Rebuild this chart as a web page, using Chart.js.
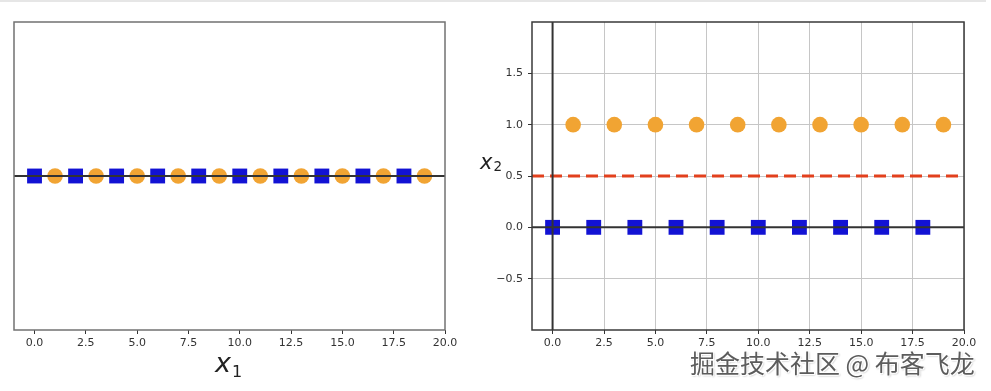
<!DOCTYPE html>
<html>
<head>
<meta charset="utf-8">
<script src="https://cdn.jsdelivr.net/npm/chart.js@4/dist/chart.umd.min.js"></script>
<style>
  body { margin: 0; background: #fff; width: 991px; height: 391px; position: relative; overflow: hidden; }
  #topline { position: absolute; left: 0; top: 0; width: 986px; height: 2px; background: #e6e6e6; }
  #left { position: absolute; left: 0; top: 0; }
  #right { position: absolute; left: 470px; top: 0; }
  #mark {
    position: absolute; left: 690px; top: 344px;
    font: 25px "Noto Sans CJK SC"; color: #5c5c5c; white-space: nowrap;
    text-shadow: 1px 1px 0 #fff, -1px -1px 0 #fff, 1px -1px 0 #fff, -1px 1px 0 #fff, 1px 1px 2px #999;
  }
</style>
</head>
<body>
<div id="topline"></div>
<canvas id="left" width="470" height="391"></canvas>
<canvas id="right" width="521" height="391"></canvas>
<div id="mark">掘金技术社区 @ 布客飞龙</div>
<script>
// data
const squareX = [0, 2, 4, 6, 8, 10, 12, 14, 16, 18];
const circleX = [1, 3, 5, 7, 9, 11, 13, 15, 17, 19];
const squareY2 = [0, 0, 0, 0, 0, 0, 0, 0, 0, 0];
const circleY2 = [1, 1, 1, 1, 1, 1, 1, 1, 1, 1];
const xTicks = [0, 2.5, 5, 7.5, 10, 12.5, 15, 17.5, 20];
const yTicks = [-0.5, 0, 0.5, 1, 1.5];
const xRange = [-1, 20];
const boundaryY = 0.5;

const BLUE = '#1212d4';
const ORANGE = '#f1a433';
const DARK = '#333333';

const pts = (xs, ys) => xs.map((x, i) => ({ x: x, y: ys ? ys[i] : 0 }));
const fmt = v => (v < 0 ? '\u2212' + Math.abs(v).toFixed(1) : v.toFixed(1));

// frame around the plot area
const frame = (color) => ({
  id: 'frame',
  afterDraw(chart) {
    const { ctx, chartArea: a } = chart;
    ctx.save();
    ctx.strokeStyle = color;
    ctx.lineWidth = 1.5;
    ctx.strokeRect(a.left, a.top, a.right - a.left, a.bottom - a.top);
    ctx.restore();
  }
});

// mathtext-like axis label: x with a subscript
const mathLabel = (sub, x, y, size, subSize, subDrop) => ({
  id: 'mathLabel',
  afterDraw(chart) {
    const ctx = chart.ctx;
    ctx.save();
    ctx.fillStyle = '#222';
    ctx.textBaseline = 'alphabetic';
    ctx.font = 'italic ' + size + 'px "DejaVu Sans"';
    ctx.fillText('x', x, y);
    const w = ctx.measureText('x').width;
    ctx.font = subSize + 'px "DejaVu Sans"';
    ctx.fillText(sub, x + w + 1, y + subDrop);
    ctx.restore();
  }
});

const xScale = (grid) => ({
  type: 'linear',
  min: xRange[0],
  max: xRange[1],
  afterBuildTicks: s => { s.ticks = xTicks.map(v => ({ value: v })); },
  afterFit: s => { s.height = 61; },
  border: { display: false },
  grid: {
    drawOnChartArea: grid,
    color: '#c6c6c6',
    lineWidth: 1,
    tickLength: 4,
    tickColor: DARK,
    tickWidth: 1
  },
  ticks: {
    color: DARK,
    font: { family: 'DejaVu Sans', size: 11 },
    padding: 3,
    maxRotation: 0,
    autoSkip: false,
    callback: v => fmt(v)
  }
});

const markerSets = (sqY, ciY) => [
  { data: pts(squareX, sqY), pointStyle: 'rect', pointRadius: 10.5, backgroundColor: BLUE, borderWidth: 0, order: 2 },
  { data: pts(circleX, ciY), pointStyle: 'circle', pointRadius: 7.8, backgroundColor: ORANGE, borderWidth: 0, order: 2 }
];

const lineSet = (data, color, width, dash) => ({
  data: data, showLine: true, pointRadius: 0, borderColor: color, borderWidth: width,
  borderDash: dash || [], order: 1
});

// left: everything on one line
new Chart(document.getElementById('left'), {
  type: 'scatter',
  data: {
    datasets: [
      ...markerSets(null, null),
      lineSet([{ x: xRange[0], y: 0 }, { x: xRange[1], y: 0 }], DARK, 2)
    ]
  },
  options: {
    responsive: false,
    animation: false,
    layout: { padding: { left: 14, right: 25, top: 22, bottom: 0 } },
    plugins: { legend: { display: false }, tooltip: { enabled: false } },
    scales: {
      x: xScale(false),
      y: { min: -1, max: 1, display: false }
    }
  },
  plugins: [frame('#727272'), mathLabel('1', 215, 372, 27, 16, 5)]
});

// right: lifted to two dimensions
new Chart(document.getElementById('right'), {
  type: 'scatter',
  data: {
    datasets: [
      ...markerSets(squareY2, circleY2),
      lineSet([{ x: xRange[0], y: 0 }, { x: xRange[1], y: 0 }], DARK, 2),
      lineSet([{ x: 0, y: -1 }, { x: 0, y: 2 }], DARK, 2),
      lineSet([{ x: xRange[0], y: boundaryY }, { x: xRange[1], y: boundaryY }], '#e2401d', 3, [12, 6])
    ]
  },
  options: {
    responsive: false,
    animation: false,
    layout: { padding: { left: 0, right: 27, top: 22, bottom: 0 } },
    plugins: { legend: { display: false }, tooltip: { enabled: false } },
    scales: {
      x: xScale(true),
      y: {
        type: 'linear',
        min: -1,
        max: 2,
        afterBuildTicks: s => { s.ticks = yTicks.map(v => ({ value: v })); },
        afterFit: s => { s.width = 62; },
        border: { display: false },
        grid: { color: '#c6c6c6', lineWidth: 1, tickLength: 4, tickColor: DARK, tickWidth: 1 },
        ticks: {
          color: DARK,
          font: { family: 'DejaVu Sans', size: 11 },
          padding: 5,
          callback: v => fmt(v)
        }
      }
    }
  },
  plugins: [frame('#3a3a3a'), mathLabel('2', 10, 169, 21, 13.5, 2)]
});
</script>
</body>
</html>
